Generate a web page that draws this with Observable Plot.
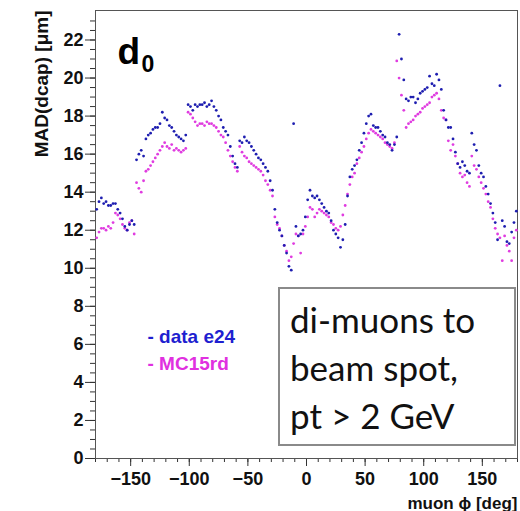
<!DOCTYPE html>
<html><head><meta charset="utf-8">
<script src="https://cdn.jsdelivr.net/npm/d3@7"></script>
<script src="https://cdn.jsdelivr.net/npm/@observablehq/plot@0.6"></script>
<style>
body{margin:0;background:#fff}
#chart{position:relative;width:520px;height:511px;overflow:hidden}
#note{position:absolute;left:278px;top:287px;width:238px;height:159px;border:2px solid #8a8a8a;background:#fff;
 font-family:Lato,"Open Sans",sans-serif;font-size:35px;line-height:48px;color:#111;box-sizing:border-box;padding:6px 0 0 10px}
</style>
</head><body><div id="chart"><div id="note">di-muons to<br>beam spot,<br>pt &gt; 2 GeV</div></div>
<script>
// bin centres in muon phi [deg]
const phiBins = d3.range(-179, 180, 2);
// MAD(dcap) [um], data e24
const dataE24 = [
13.1,13.5,13.7,13.4,13.5,13.3,13.3,13.4,13.4,13.1,
12.9,12.6,12.2,12.0,12.3,12.5,12.3,15.7,16.0,16.2,
15.9,16.8,17.0,17.1,17.3,17.4,17.4,17.6,18.2,17.9,
17.8,17.5,17.4,17.2,17.0,16.9,16.8,16.7,17.0,18.6,
18.5,18.3,18.6,18.5,18.6,18.6,18.7,18.5,18.6,18.8,
18.5,18.3,18.0,17.8,17.4,17.2,17.0,16.4,15.9,15.5,
15.3,16.7,16.6,16.9,16.7,16.6,16.4,16.2,16.0,15.8,
15.7,15.5,15.3,15.1,14.6,14.1,13.1,12.4,12.0,11.7,
11.2,10.8,10.1,9.9,17.6,12.2,11.7,11.8,12.0,12.7,
13.6,14.1,13.8,13.7,13.8,13.6,13.4,13.2,13.0,12.9,
12.5,12.0,11.8,11.6,11.1,11.5,12.3,13.8,14.8,15.2,
15.4,15.7,16.2,16.6,17.1,17.6,18.0,18.1,17.5,17.4,
17.4,17.2,17.0,16.9,16.6,16.5,16.2,16.5,16.9,22.3,
21.0,19.9,18.9,18.8,19.0,19.0,18.7,18.9,19.2,19.3,
19.4,19.5,20.1,19.7,19.6,20.2,19.9,19.4,18.3,17.8,
17.4,17.4,16.8,16.1,15.5,15.3,15.6,15.4,15.1,15.0,
17.1,16.5,16.2,15.4,15.0,14.8,14.3,13.9,13.4,12.9,
12.4,11.5,19.6,12.5,12.2,11.4,11.3,11.9,12.4,13.0
];
// MAD(dcap) [um], MC15rd
const mc15rd = [
11.6,11.9,12.1,12.1,12.0,12.2,12.1,12.4,12.9,12.8,
12.6,12.3,12.1,12.0,12.4,12.5,11.8,14.5,14.2,14.0,
14.6,15.1,15.2,15.4,15.6,15.8,16.0,16.2,16.4,16.6,
16.4,16.3,16.5,16.2,16.3,16.2,16.1,16.2,16.3,18.2,
18.1,17.9,17.7,17.5,17.6,17.6,17.5,17.7,17.6,17.6,
17.5,17.4,17.2,17.0,16.9,16.6,16.2,15.9,15.6,15.3,
15.1,16.4,16.1,15.9,15.8,15.6,15.5,15.4,15.3,15.2,
15.1,14.9,14.6,14.4,14.1,13.8,12.7,12.3,12.1,11.7,
11.2,10.9,10.4,10.6,11.3,11.8,11.7,10.8,11.8,12.2,
12.7,13.2,13.1,12.7,12.9,13.1,13.0,12.9,12.8,12.7,
12.4,12.3,12.1,12.0,12.2,12.8,13.3,13.9,14.4,14.8,
15.0,15.5,15.8,16.1,16.4,16.8,17.1,17.3,17.2,17.1,
17.0,16.9,16.8,16.6,16.5,16.4,16.3,16.6,20.9,20.0,
19.1,18.3,17.4,17.6,17.7,17.8,18.0,18.1,18.2,18.4,
18.5,18.6,18.7,19.0,19.1,19.2,18.9,18.3,17.9,17.8,
16.7,16.2,16.5,15.9,15.5,15.0,14.8,14.9,14.5,14.3,
15.9,15.4,15.2,14.8,14.5,14.2,13.9,13.5,13.2,12.6,
12.1,11.8,11.6,10.4,11.7,11.2,10.9,10.4,11.6,12.0
];
const seriesNames = ["data e24", "MC15rd"];
const seriesColors = ["#1e1eb0", "#e03ce0"];
const legendColors = ["#1f1fd0", "#e030e0"];
const xTicks = [-150, -100, -50, 0, 50, 100, 150];
const xMinorTicks = d3.range(-180, 181, 10);
const yTicks = [0, 2, 4, 6, 8, 10, 12, 14, 16, 18, 20, 22];
const yMinorTicks = d3.range(0, 23.5, 0.5);
const yLabel = "MAD(dcap) [μm]";
const xLabel = "muon ϕ [deg]";

const rows = [];
seriesNames.forEach((s, k) => {
  const vals = k === 0 ? dataE24 : mc15rd;
  phiBins.forEach((p, i) => { if (vals[i] != null) rows.push({series: s, phi: p, v: vals[i]}); });
});
// draw MC first, then data on top
rows.sort((a, b) => (a.series === "MC15rd" ? 0 : 1) - (b.series === "MC15rd" ? 0 : 1));

const font = "'Liberation Sans', Arial, Helvetica, sans-serif";
const legendMarks = seriesNames.map((s, i) =>
  Plot.text([s], {frameAnchor: "top-left", textAnchor: "start", lineAnchor: "bottom",
    text: d => "- " + d, dx: 52, dy: 332 + 27 * i, fill: legendColors[i], fontSize: 19, fontWeight: "bold"}));

const chart = Plot.plot({
  width: 520, height: 511,
  marginLeft: 95, marginRight: 3, marginTop: 10, marginBottom: 53,
  style: {fontFamily: font, fontWeight: "bold", fontSize: "18px", color: "#111", background: "#fff"},
  x: {domain: [-180, 180]},
  y: {domain: [0, 23.55]},
  color: {domain: seriesNames, range: seriesColors},
  marks: [
    Plot.axisX({ticks: xMinorTicks, tickSize: 4, text: null, label: null, stroke: "#333"}),
    Plot.axisX({ticks: xTicks, tickSize: 8, tickPadding: 6, label: null, stroke: "#333",
      tickFormat: d => (d < 0 ? "\u2212" + Math.abs(d) : String(d)), fontSize: 18, fontWeight: "bold"}),
    Plot.axisY({ticks: yMinorTicks, tickSize: 5, text: null, label: null, stroke: "#333"}),
    Plot.axisY({ticks: yTicks, tickSize: 10, tickPadding: 2, label: null, stroke: "#333", fontSize: 18, fontWeight: "bold"}),
    Plot.frame({stroke: "#555"}),
    Plot.dot(rows, {x: "phi", y: "v", fill: "series", r: 1.4, stroke: null}),
    Plot.text([yLabel], {frameAnchor: "top-left", rotate: -90, textAnchor: "end", dx: -61, dy: 0,
      fontSize: 19, fontWeight: "bold", fill: "#111"}),
    Plot.text([xLabel], {frameAnchor: "bottom-right", textAnchor: "end", lineAnchor: "bottom", dy: 50,
      fontSize: 17, fontWeight: "bold", fill: "#111"}),
    Plot.text(["d"], {frameAnchor: "top-left", textAnchor: "start", lineAnchor: "bottom", dx: 22, dy: 53,
      fontSize: 37, fontWeight: "bold", fill: "#000"}),
    Plot.text(["0"], {frameAnchor: "top-left", textAnchor: "start", lineAnchor: "bottom", dx: 46, dy: 61,
      fontSize: 23, fontWeight: "bold", fill: "#000"}),
    ...legendMarks
  ]
});
document.getElementById("chart").prepend(chart);
</script>
</body></html>
